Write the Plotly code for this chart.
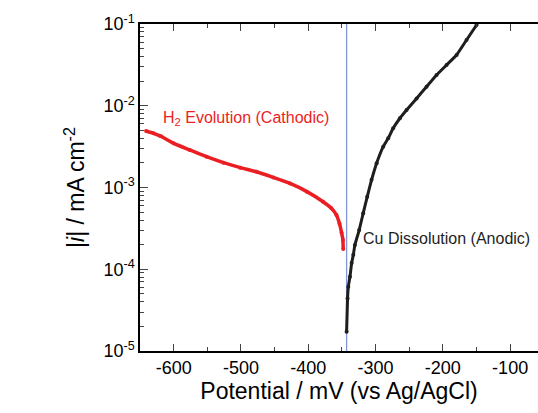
import plotly.graph_objects as go

# Cathodic branch (H2 evolution), potential in mV, |i| in mA cm^-2
cath_v = [-641, -630, -620, -600, -576, -551, -526, -501, -477, -452, -427, -402, -378, -366, -358, -353.5, -350.5, -348.5, -348]
cath_i = [4.91e-3, 4.6e-3, 4.27e-3, 3.47e-3, 2.88e-3, 2.38e-3, 2.01e-3, 1.75e-3, 1.56e-3, 1.33e-3, 1.12e-3, 8.9e-4, 6.7e-4, 5.6e-4, 4.6e-4, 3.6e-4, 2.8e-4, 2.28e-4, 1.77e-4]

# Anodic branch (Cu dissolution)
anod_v = [-343, -341.6, -340.5, -338, -335.5, -333, -330.7, -324.3, -318.4, -312.4, -305.9, -298.4, -288.6, -281.2, -273.8, -263.8, -253.9, -239, -224.2, -209.3, -194.5, -179.6, -164.8, -149.9]
anod_i = [1.72e-5, 4.4e-5, 6.1e-5, 8.1e-5, 1.19e-4, 1.5e-4, 1.98e-4, 3.02e-4, 4.83e-4, 7.7e-4, 1.24e-3, 1.98e-3, 3.16e-3, 4.0e-3, 5.3e-3, 7.03e-3, 8.87e-3, 1.23e-2, 1.71e-2, 2.38e-2, 3.15e-2, 4.18e-2, 6.37e-2, 9.73e-2]

ecorr = -343
y_ticks = [1e-5, 1e-4, 1e-3, 1e-2, 1e-1]
y_ticktext = ["10<sup>-5</sup>", "10<sup>-4</sup>", "10<sup>-3</sup>", "10<sup>-2</sup>", "10<sup>-1</sup>"]
x_ticks = [-600, -500, -400, -300, -200, -100]
x_ticktext = ["-600", "-500", "-400", "-300", "-200", "-100"]

minor_y = [m * 10 ** e for e in range(-5, -1) for m in range(2, 10)]

fig = go.Figure()
fig.add_trace(go.Scatter(x=[ecorr, ecorr], y=[1e-5, 1e-1], mode="lines",
                         line=dict(color="rgb(130,150,220)", width=1.3), showlegend=False))
fig.add_trace(go.Scatter(x=cath_v, y=cath_i, mode="lines+markers",
                         line=dict(color="rgb(235,30,35)", width=3.5, shape="spline", smoothing=0.4),
                         marker=dict(color="rgb(235,30,35)", size=4), showlegend=False))
fig.add_trace(go.Scatter(x=anod_v, y=anod_i, mode="lines+markers",
                         line=dict(color="rgb(30,30,30)", width=3, shape="spline", smoothing=0.4),
                         marker=dict(color="rgb(30,30,30)", size=4), showlegend=False))

fig.add_annotation(x=-492, y=-2.16, xref="x", yref="y", text="H<sub>2</sub> Evolution (Cathodic)",
                   showarrow=False, font=dict(size=16, color="rgb(235,30,35)", family="Liberation Sans, Arial"))
fig.add_annotation(x=-194, y=-3.62, xref="x", yref="y", text="Cu Dissolution (Anodic)",
                   showarrow=False, font=dict(size=16, color="rgb(30,30,30)", family="Liberation Sans, Arial"))

fig.update_layout(
    width=538, height=413,
    margin=dict(l=140, r=0, t=24, b=62),
    paper_bgcolor="white", plot_bgcolor="white",
    font=dict(family="Liberation Sans, Arial", color="black"),
    xaxis=dict(range=[-650, -58.6], tickvals=x_ticks, ticktext=x_ticktext, ticks="inside", ticklen=7, tickwidth=1,
               showline=True, linecolor="black", linewidth=1.5, mirror="ticks", showgrid=False, zeroline=False,
               tickfont=dict(size=18),
               minor=dict(tickvals=[-550, -450, -350, -250, -150], ticks="inside", ticklen=4, showgrid=False),
               title=dict(text="Potential / mV (vs Ag/AgCl)", font=dict(size=23), standoff=6)),
    yaxis=dict(type="log", range=[-5, -1], tickvals=y_ticks, ticktext=y_ticktext, ticks="inside",
               ticklen=8, tickwidth=1, showline=True, linecolor="black", linewidth=1.5, mirror=False,
               showgrid=False, zeroline=False, tickfont=dict(size=18),
               minor=dict(tickvals=minor_y, ticks="inside", ticklen=4, showgrid=False),
               title=dict(text="|<i>i</i>| / mA cm<sup>-2</sup>", font=dict(size=23), standoff=12)),
)

fig.write_html("out.html")
